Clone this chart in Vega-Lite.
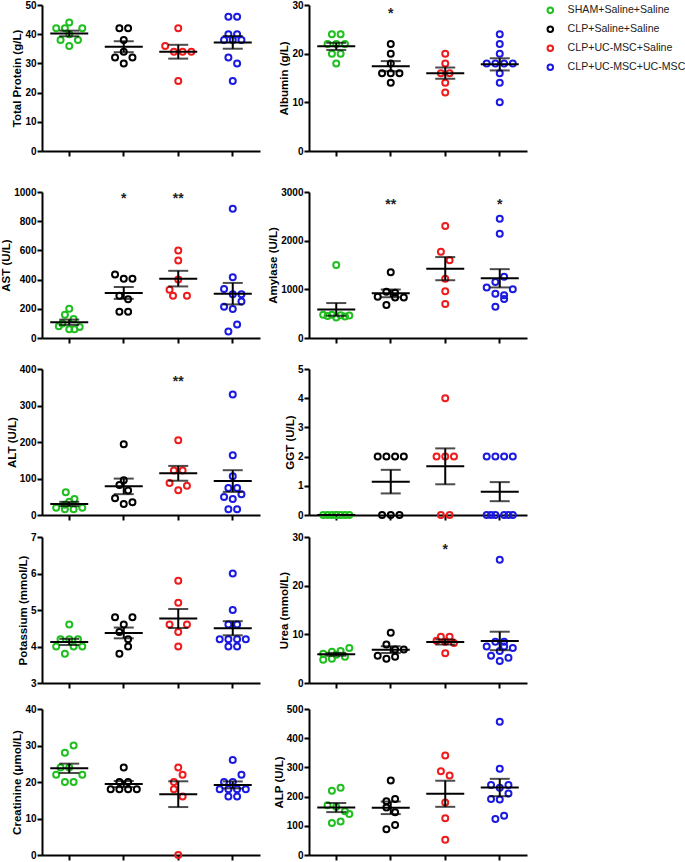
{
"$schema":"https://vega.github.io/schema/vega-lite/v6.json",
"padding":{"left":0,"top":0,"right":0,"bottom":0},
"columns":2,
"spacing":{"row":10,"column":7},
"datasets":{
"pts":[
{"p":"TP","g":"SHAM+Saline+Saline","v":44,"j":0},{"p":"TP","g":"SHAM+Saline+Saline","v":42,"j":-1.5},{"p":"TP","g":"SHAM+Saline+Saline","v":42,"j":-0.5},{"p":"TP","g":"SHAM+Saline+Saline","v":42,"j":1.5},{"p":"TP","g":"SHAM+Saline+Saline","v":40,"j":0},{"p":"TP","g":"SHAM+Saline+Saline","v":38,"j":-1},{"p":"TP","g":"SHAM+Saline+Saline","v":38,"j":1},{"p":"TP","g":"SHAM+Saline+Saline","v":36,"j":0},
{"p":"TP","g":"CLP+Saline+Saline","v":42,"j":-0.5},{"p":"TP","g":"CLP+Saline+Saline","v":42,"j":0.5},{"p":"TP","g":"CLP+Saline+Saline","v":38,"j":0},{"p":"TP","g":"CLP+Saline+Saline","v":34,"j":0},{"p":"TP","g":"CLP+Saline+Saline","v":32,"j":-1},{"p":"TP","g":"CLP+Saline+Saline","v":32,"j":1},{"p":"TP","g":"CLP+Saline+Saline","v":30,"j":0},
{"p":"TP","g":"CLP+UC-MSC+Saline","v":42,"j":0},{"p":"TP","g":"CLP+UC-MSC+Saline","v":36,"j":-1.5},{"p":"TP","g":"CLP+UC-MSC+Saline","v":34,"j":-0.5},{"p":"TP","g":"CLP+UC-MSC+Saline","v":34,"j":0.5},{"p":"TP","g":"CLP+UC-MSC+Saline","v":34,"j":1.5},{"p":"TP","g":"CLP+UC-MSC+Saline","v":24,"j":0},
{"p":"TP","g":"CLP+UC-MSC+UC-MSC","v":46,"j":-0.5},{"p":"TP","g":"CLP+UC-MSC+UC-MSC","v":46,"j":0.5},{"p":"TP","g":"CLP+UC-MSC+UC-MSC","v":40,"j":-0.5},{"p":"TP","g":"CLP+UC-MSC+UC-MSC","v":40,"j":0.5},{"p":"TP","g":"CLP+UC-MSC+UC-MSC","v":38,"j":-1},{"p":"TP","g":"CLP+UC-MSC+UC-MSC","v":38,"j":0},{"p":"TP","g":"CLP+UC-MSC+UC-MSC","v":38,"j":1},{"p":"TP","g":"CLP+UC-MSC+UC-MSC","v":32,"j":-0.5},{"p":"TP","g":"CLP+UC-MSC+UC-MSC","v":30,"j":0.5},{"p":"TP","g":"CLP+UC-MSC+UC-MSC","v":24,"j":0},

{"p":"ALB","g":"SHAM+Saline+Saline","v":24,"j":-0.5},{"p":"ALB","g":"SHAM+Saline+Saline","v":24,"j":0.5},{"p":"ALB","g":"SHAM+Saline+Saline","v":22,"j":-1},{"p":"ALB","g":"SHAM+Saline+Saline","v":22,"j":0},{"p":"ALB","g":"SHAM+Saline+Saline","v":22,"j":1},{"p":"ALB","g":"SHAM+Saline+Saline","v":20,"j":-0.5},{"p":"ALB","g":"SHAM+Saline+Saline","v":20,"j":0.5},{"p":"ALB","g":"SHAM+Saline+Saline","v":18,"j":0},
{"p":"ALB","g":"CLP+Saline+Saline","v":22,"j":0},{"p":"ALB","g":"CLP+Saline+Saline","v":20,"j":0},{"p":"ALB","g":"CLP+Saline+Saline","v":18,"j":0},{"p":"ALB","g":"CLP+Saline+Saline","v":16,"j":-1},{"p":"ALB","g":"CLP+Saline+Saline","v":16,"j":0},{"p":"ALB","g":"CLP+Saline+Saline","v":16,"j":1},{"p":"ALB","g":"CLP+Saline+Saline","v":14,"j":0},
{"p":"ALB","g":"CLP+UC-MSC+Saline","v":20,"j":0},{"p":"ALB","g":"CLP+UC-MSC+Saline","v":18,"j":0},{"p":"ALB","g":"CLP+UC-MSC+Saline","v":16,"j":-0.5},{"p":"ALB","g":"CLP+UC-MSC+Saline","v":16,"j":0.5},{"p":"ALB","g":"CLP+UC-MSC+Saline","v":14,"j":0},{"p":"ALB","g":"CLP+UC-MSC+Saline","v":12,"j":0},
{"p":"ALB","g":"CLP+UC-MSC+UC-MSC","v":24,"j":0},{"p":"ALB","g":"CLP+UC-MSC+UC-MSC","v":22,"j":0},{"p":"ALB","g":"CLP+UC-MSC+UC-MSC","v":20,"j":0},{"p":"ALB","g":"CLP+UC-MSC+UC-MSC","v":18,"j":-1.5},{"p":"ALB","g":"CLP+UC-MSC+UC-MSC","v":18,"j":-0.5},{"p":"ALB","g":"CLP+UC-MSC+UC-MSC","v":18,"j":0.5},{"p":"ALB","g":"CLP+UC-MSC+UC-MSC","v":18,"j":1.5},{"p":"ALB","g":"CLP+UC-MSC+UC-MSC","v":16,"j":0},{"p":"ALB","g":"CLP+UC-MSC+UC-MSC","v":14,"j":0},{"p":"ALB","g":"CLP+UC-MSC+UC-MSC","v":10,"j":0},

{"p":"AST","g":"SHAM+Saline+Saline","v":200,"j":0},{"p":"AST","g":"SHAM+Saline+Saline","v":160,"j":-0.5},{"p":"AST","g":"SHAM+Saline+Saline","v":130,"j":0.5},{"p":"AST","g":"SHAM+Saline+Saline","v":100,"j":-0.8},{"p":"AST","g":"SHAM+Saline+Saline","v":80,"j":-1.2},{"p":"AST","g":"SHAM+Saline+Saline","v":75,"j":1.2},{"p":"AST","g":"SHAM+Saline+Saline","v":60,"j":0},{"p":"AST","g":"SHAM+Saline+Saline","v":60,"j":0.6},
{"p":"AST","g":"CLP+Saline+Saline","v":435,"j":-1},{"p":"AST","g":"CLP+Saline+Saline","v":405,"j":0},{"p":"AST","g":"CLP+Saline+Saline","v":405,"j":1},{"p":"AST","g":"CLP+Saline+Saline","v":290,"j":-0.5},{"p":"AST","g":"CLP+Saline+Saline","v":265,"j":0.5},{"p":"AST","g":"CLP+Saline+Saline","v":180,"j":-0.5},{"p":"AST","g":"CLP+Saline+Saline","v":180,"j":0.5},
{"p":"AST","g":"CLP+UC-MSC+Saline","v":600,"j":0},{"p":"AST","g":"CLP+UC-MSC+Saline","v":530,"j":0},{"p":"AST","g":"CLP+UC-MSC+Saline","v":400,"j":0},{"p":"AST","g":"CLP+UC-MSC+Saline","v":330,"j":-1},{"p":"AST","g":"CLP+UC-MSC+Saline","v":290,"j":-0.6},{"p":"AST","g":"CLP+UC-MSC+Saline","v":290,"j":1},
{"p":"AST","g":"CLP+UC-MSC+UC-MSC","v":886,"j":0},{"p":"AST","g":"CLP+UC-MSC+UC-MSC","v":416,"j":0},{"p":"AST","g":"CLP+UC-MSC+UC-MSC","v":335,"j":-1},{"p":"AST","g":"CLP+UC-MSC+UC-MSC","v":300,"j":0},{"p":"AST","g":"CLP+UC-MSC+UC-MSC","v":300,"j":1},{"p":"AST","g":"CLP+UC-MSC+UC-MSC","v":250,"j":1},{"p":"AST","g":"CLP+UC-MSC+UC-MSC","v":214,"j":-1},{"p":"AST","g":"CLP+UC-MSC+UC-MSC","v":198,"j":0},{"p":"AST","g":"CLP+UC-MSC+UC-MSC","v":93,"j":0.5},{"p":"AST","g":"CLP+UC-MSC+UC-MSC","v":44,"j":-0.5},

{"p":"AMY","g":"SHAM+Saline+Saline","v":1500,"j":0},{"p":"AMY","g":"SHAM+Saline+Saline","v":480,"j":-1.5},{"p":"AMY","g":"SHAM+Saline+Saline","v":480,"j":-0.5},{"p":"AMY","g":"SHAM+Saline+Saline","v":470,"j":0.5},{"p":"AMY","g":"SHAM+Saline+Saline","v":460,"j":1.5},{"p":"AMY","g":"SHAM+Saline+Saline","v":450,"j":-1},{"p":"AMY","g":"SHAM+Saline+Saline","v":440,"j":1},{"p":"AMY","g":"SHAM+Saline+Saline","v":420,"j":0},
{"p":"AMY","g":"CLP+Saline+Saline","v":1350,"j":0},{"p":"AMY","g":"CLP+Saline+Saline","v":950,"j":-0.5},{"p":"AMY","g":"CLP+Saline+Saline","v":930,"j":0.5},{"p":"AMY","g":"CLP+Saline+Saline","v":850,"j":-1.5},{"p":"AMY","g":"CLP+Saline+Saline","v":830,"j":0.5},{"p":"AMY","g":"CLP+Saline+Saline","v":830,"j":1.5},{"p":"AMY","g":"CLP+Saline+Saline","v":680,"j":-0.5},
{"p":"AMY","g":"CLP+UC-MSC+Saline","v":2300,"j":0},{"p":"AMY","g":"CLP+UC-MSC+Saline","v":1770,"j":-0.5},{"p":"AMY","g":"CLP+UC-MSC+Saline","v":1600,"j":0.5},{"p":"AMY","g":"CLP+UC-MSC+Saline","v":1220,"j":0},{"p":"AMY","g":"CLP+UC-MSC+Saline","v":960,"j":0},{"p":"AMY","g":"CLP+UC-MSC+Saline","v":700,"j":0},
{"p":"AMY","g":"CLP+UC-MSC+UC-MSC","v":2450,"j":0},{"p":"AMY","g":"CLP+UC-MSC+UC-MSC","v":2140,"j":0},{"p":"AMY","g":"CLP+UC-MSC+UC-MSC","v":1260,"j":0.5},{"p":"AMY","g":"CLP+UC-MSC+UC-MSC","v":1150,"j":-0.5},{"p":"AMY","g":"CLP+UC-MSC+UC-MSC","v":1040,"j":-1.5},{"p":"AMY","g":"CLP+UC-MSC+UC-MSC","v":1000,"j":1.5},{"p":"AMY","g":"CLP+UC-MSC+UC-MSC","v":910,"j":-0.5},{"p":"AMY","g":"CLP+UC-MSC+UC-MSC","v":880,"j":0.5},{"p":"AMY","g":"CLP+UC-MSC+UC-MSC","v":800,"j":0.5},{"p":"AMY","g":"CLP+UC-MSC+UC-MSC","v":640,"j":-0.5},

{"p":"ALT","g":"SHAM+Saline+Saline","v":62,"j":-0.4},{"p":"ALT","g":"SHAM+Saline+Saline","v":44,"j":0.6},{"p":"ALT","g":"SHAM+Saline+Saline","v":36,"j":0},{"p":"ALT","g":"SHAM+Saline+Saline","v":28,"j":-0.5},{"p":"ALT","g":"SHAM+Saline+Saline","v":20,"j":-1.5},{"p":"ALT","g":"SHAM+Saline+Saline","v":16,"j":-0.5},{"p":"ALT","g":"SHAM+Saline+Saline","v":16,"j":0.5},{"p":"ALT","g":"SHAM+Saline+Saline","v":20,"j":1.5},
{"p":"ALT","g":"CLP+Saline+Saline","v":194,"j":0},{"p":"ALT","g":"CLP+Saline+Saline","v":95,"j":0},{"p":"ALT","g":"CLP+Saline+Saline","v":82,"j":-0.5},{"p":"ALT","g":"CLP+Saline+Saline","v":67,"j":0.5},{"p":"ALT","g":"CLP+Saline+Saline","v":46,"j":-1},{"p":"ALT","g":"CLP+Saline+Saline","v":35,"j":1},{"p":"ALT","g":"CLP+Saline+Saline","v":30,"j":0},
{"p":"ALT","g":"CLP+UC-MSC+Saline","v":205,"j":0},{"p":"ALT","g":"CLP+UC-MSC+Saline","v":122,"j":-0.5},{"p":"ALT","g":"CLP+UC-MSC+Saline","v":122,"j":0.5},{"p":"ALT","g":"CLP+UC-MSC+Saline","v":88,"j":-1},{"p":"ALT","g":"CLP+UC-MSC+Saline","v":80,"j":1},{"p":"ALT","g":"CLP+UC-MSC+Saline","v":68,"j":0},
{"p":"ALT","g":"CLP+UC-MSC+UC-MSC","v":330,"j":0},{"p":"ALT","g":"CLP+UC-MSC+UC-MSC","v":164,"j":0},{"p":"ALT","g":"CLP+UC-MSC+UC-MSC","v":106,"j":0},{"p":"ALT","g":"CLP+UC-MSC+UC-MSC","v":74,"j":-0.5},{"p":"ALT","g":"CLP+UC-MSC+UC-MSC","v":74,"j":0.5},{"p":"ALT","g":"CLP+UC-MSC+UC-MSC","v":57,"j":1},{"p":"ALT","g":"CLP+UC-MSC+UC-MSC","v":49,"j":-1},{"p":"ALT","g":"CLP+UC-MSC+UC-MSC","v":44,"j":0},{"p":"ALT","g":"CLP+UC-MSC+UC-MSC","v":16,"j":-0.5},{"p":"ALT","g":"CLP+UC-MSC+UC-MSC","v":16,"j":0.5},

{"p":"GGT","g":"SHAM+Saline+Saline","v":0,"j":-1.5},{"p":"GGT","g":"SHAM+Saline+Saline","v":0,"j":-0.5},{"p":"GGT","g":"SHAM+Saline+Saline","v":0,"j":0.5},{"p":"GGT","g":"SHAM+Saline+Saline","v":0,"j":1.5},{"p":"GGT","g":"SHAM+Saline+Saline","v":0,"j":-1},{"p":"GGT","g":"SHAM+Saline+Saline","v":0,"j":0},{"p":"GGT","g":"SHAM+Saline+Saline","v":0,"j":1},{"p":"GGT","g":"SHAM+Saline+Saline","v":0,"j":0},
{"p":"GGT","g":"CLP+Saline+Saline","v":2,"j":-1.5},{"p":"GGT","g":"CLP+Saline+Saline","v":2,"j":-0.5},{"p":"GGT","g":"CLP+Saline+Saline","v":2,"j":0.5},{"p":"GGT","g":"CLP+Saline+Saline","v":2,"j":1.5},{"p":"GGT","g":"CLP+Saline+Saline","v":0,"j":-1},{"p":"GGT","g":"CLP+Saline+Saline","v":0,"j":0},{"p":"GGT","g":"CLP+Saline+Saline","v":0,"j":1},
{"p":"GGT","g":"CLP+UC-MSC+Saline","v":4,"j":0},{"p":"GGT","g":"CLP+UC-MSC+Saline","v":2,"j":-1},{"p":"GGT","g":"CLP+UC-MSC+Saline","v":2,"j":0},{"p":"GGT","g":"CLP+UC-MSC+Saline","v":2,"j":1},{"p":"GGT","g":"CLP+UC-MSC+Saline","v":0,"j":-0.5},{"p":"GGT","g":"CLP+UC-MSC+Saline","v":0,"j":0.5},
{"p":"GGT","g":"CLP+UC-MSC+UC-MSC","v":2,"j":-1.5},{"p":"GGT","g":"CLP+UC-MSC+UC-MSC","v":2,"j":-0.5},{"p":"GGT","g":"CLP+UC-MSC+UC-MSC","v":2,"j":0.5},{"p":"GGT","g":"CLP+UC-MSC+UC-MSC","v":2,"j":1.5},{"p":"GGT","g":"CLP+UC-MSC+UC-MSC","v":0,"j":-1.5},{"p":"GGT","g":"CLP+UC-MSC+UC-MSC","v":0,"j":-0.5},{"p":"GGT","g":"CLP+UC-MSC+UC-MSC","v":0,"j":0.5},{"p":"GGT","g":"CLP+UC-MSC+UC-MSC","v":0,"j":1.5},{"p":"GGT","g":"CLP+UC-MSC+UC-MSC","v":0,"j":-1},{"p":"GGT","g":"CLP+UC-MSC+UC-MSC","v":0,"j":1},

{"p":"K","g":"SHAM+Saline+Saline","v":4.6,"j":0},{"p":"K","g":"SHAM+Saline+Saline","v":4.2,"j":-1},{"p":"K","g":"SHAM+Saline+Saline","v":4.2,"j":0},{"p":"K","g":"SHAM+Saline+Saline","v":4.2,"j":1},{"p":"K","g":"SHAM+Saline+Saline","v":4.0,"j":-1.5},{"p":"K","g":"SHAM+Saline+Saline","v":4.0,"j":0.5},{"p":"K","g":"SHAM+Saline+Saline","v":4.0,"j":1.5},{"p":"K","g":"SHAM+Saline+Saline","v":3.8,"j":-0.5},
{"p":"K","g":"CLP+Saline+Saline","v":4.8,"j":-1},{"p":"K","g":"CLP+Saline+Saline","v":4.8,"j":1},{"p":"K","g":"CLP+Saline+Saline","v":4.6,"j":0},{"p":"K","g":"CLP+Saline+Saline","v":4.4,"j":-0.5},{"p":"K","g":"CLP+Saline+Saline","v":4.2,"j":0.5},{"p":"K","g":"CLP+Saline+Saline","v":4.0,"j":0.5},{"p":"K","g":"CLP+Saline+Saline","v":3.8,"j":-0.5},
{"p":"K","g":"CLP+UC-MSC+Saline","v":5.8,"j":0},{"p":"K","g":"CLP+UC-MSC+Saline","v":5.2,"j":0},{"p":"K","g":"CLP+UC-MSC+Saline","v":4.6,"j":-1},{"p":"K","g":"CLP+UC-MSC+Saline","v":4.6,"j":1},{"p":"K","g":"CLP+UC-MSC+Saline","v":4.4,"j":0},{"p":"K","g":"CLP+UC-MSC+Saline","v":4.0,"j":0},
{"p":"K","g":"CLP+UC-MSC+UC-MSC","v":6.0,"j":0},{"p":"K","g":"CLP+UC-MSC+UC-MSC","v":5.0,"j":0},{"p":"K","g":"CLP+UC-MSC+UC-MSC","v":4.6,"j":-0.5},{"p":"K","g":"CLP+UC-MSC+UC-MSC","v":4.6,"j":0.5},{"p":"K","g":"CLP+UC-MSC+UC-MSC","v":4.2,"j":-1.5},{"p":"K","g":"CLP+UC-MSC+UC-MSC","v":4.2,"j":-0.5},{"p":"K","g":"CLP+UC-MSC+UC-MSC","v":4.2,"j":0.5},{"p":"K","g":"CLP+UC-MSC+UC-MSC","v":4.2,"j":1.5},{"p":"K","g":"CLP+UC-MSC+UC-MSC","v":4.0,"j":-0.5},{"p":"K","g":"CLP+UC-MSC+UC-MSC","v":4.0,"j":0.5},

{"p":"UREA","g":"SHAM+Saline+Saline","v":7.2,"j":1.5},{"p":"UREA","g":"SHAM+Saline+Saline","v":6.6,"j":0.5},{"p":"UREA","g":"SHAM+Saline+Saline","v":6.4,"j":-0.5},{"p":"UREA","g":"SHAM+Saline+Saline","v":6.0,"j":-1.5},{"p":"UREA","g":"SHAM+Saline+Saline","v":5.8,"j":0},{"p":"UREA","g":"SHAM+Saline+Saline","v":5.4,"j":1},{"p":"UREA","g":"SHAM+Saline+Saline","v":5.0,"j":-0.5},{"p":"UREA","g":"SHAM+Saline+Saline","v":4.8,"j":-1.5},
{"p":"UREA","g":"CLP+Saline+Saline","v":10.3,"j":0},{"p":"UREA","g":"CLP+Saline+Saline","v":7.9,"j":-0.5},{"p":"UREA","g":"CLP+Saline+Saline","v":6.9,"j":0.5},{"p":"UREA","g":"CLP+Saline+Saline","v":6.9,"j":1.5},{"p":"UREA","g":"CLP+Saline+Saline","v":5.6,"j":-1.5},{"p":"UREA","g":"CLP+Saline+Saline","v":5.0,"j":-0.5},{"p":"UREA","g":"CLP+Saline+Saline","v":5.4,"j":0.5},
{"p":"UREA","g":"CLP+UC-MSC+Saline","v":9.5,"j":-0.5},{"p":"UREA","g":"CLP+UC-MSC+Saline","v":9.5,"j":0.5},{"p":"UREA","g":"CLP+UC-MSC+Saline","v":8.7,"j":-1},{"p":"UREA","g":"CLP+UC-MSC+Saline","v":8.5,"j":0},{"p":"UREA","g":"CLP+UC-MSC+Saline","v":8.2,"j":1},{"p":"UREA","g":"CLP+UC-MSC+Saline","v":6.1,"j":0},
{"p":"UREA","g":"CLP+UC-MSC+UC-MSC","v":25.3,"j":0},{"p":"UREA","g":"CLP+UC-MSC+UC-MSC","v":8.5,"j":-0.5},{"p":"UREA","g":"CLP+UC-MSC+UC-MSC","v":8.5,"j":0.5},{"p":"UREA","g":"CLP+UC-MSC+UC-MSC","v":7.5,"j":-1.5},{"p":"UREA","g":"CLP+UC-MSC+UC-MSC","v":7.5,"j":0.5},{"p":"UREA","g":"CLP+UC-MSC+UC-MSC","v":7.2,"j":1.5},{"p":"UREA","g":"CLP+UC-MSC+UC-MSC","v":6.6,"j":0},{"p":"UREA","g":"CLP+UC-MSC+UC-MSC","v":5.6,"j":-1},{"p":"UREA","g":"CLP+UC-MSC+UC-MSC","v":5.2,"j":1},{"p":"UREA","g":"CLP+UC-MSC+UC-MSC","v":4.5,"j":0},

{"p":"CRE","g":"SHAM+Saline+Saline","v":30,"j":0.5},{"p":"CRE","g":"SHAM+Saline+Saline","v":28,"j":-0.5},{"p":"CRE","g":"SHAM+Saline+Saline","v":24,"j":-1},{"p":"CRE","g":"SHAM+Saline+Saline","v":24,"j":0},{"p":"CRE","g":"SHAM+Saline+Saline","v":22,"j":-1.5},{"p":"CRE","g":"SHAM+Saline+Saline","v":22,"j":1.5},{"p":"CRE","g":"SHAM+Saline+Saline","v":20,"j":-0.5},{"p":"CRE","g":"SHAM+Saline+Saline","v":20,"j":0.5},
{"p":"CRE","g":"CLP+Saline+Saline","v":24,"j":0},{"p":"CRE","g":"CLP+Saline+Saline","v":20,"j":-0.5},{"p":"CRE","g":"CLP+Saline+Saline","v":20,"j":0.5},{"p":"CRE","g":"CLP+Saline+Saline","v":18,"j":-1.5},{"p":"CRE","g":"CLP+Saline+Saline","v":18,"j":-0.5},{"p":"CRE","g":"CLP+Saline+Saline","v":18,"j":0.5},{"p":"CRE","g":"CLP+Saline+Saline","v":18,"j":1.5},
{"p":"CRE","g":"CLP+UC-MSC+Saline","v":24,"j":0},{"p":"CRE","g":"CLP+UC-MSC+Saline","v":22,"j":0.5},{"p":"CRE","g":"CLP+UC-MSC+Saline","v":20,"j":-0.5},{"p":"CRE","g":"CLP+UC-MSC+Saline","v":18,"j":-0.5},{"p":"CRE","g":"CLP+UC-MSC+Saline","v":16,"j":0.5},{"p":"CRE","g":"CLP+UC-MSC+Saline","v":0,"j":0},
{"p":"CRE","g":"CLP+UC-MSC+UC-MSC","v":26,"j":0},{"p":"CRE","g":"CLP+UC-MSC+UC-MSC","v":22,"j":1},{"p":"CRE","g":"CLP+UC-MSC+UC-MSC","v":20,"j":-1},{"p":"CRE","g":"CLP+UC-MSC+UC-MSC","v":20,"j":0},{"p":"CRE","g":"CLP+UC-MSC+UC-MSC","v":18,"j":-1.5},{"p":"CRE","g":"CLP+UC-MSC+UC-MSC","v":18,"j":-0.5},{"p":"CRE","g":"CLP+UC-MSC+UC-MSC","v":18,"j":0.5},{"p":"CRE","g":"CLP+UC-MSC+UC-MSC","v":18,"j":1.5},{"p":"CRE","g":"CLP+UC-MSC+UC-MSC","v":16,"j":-0.5},{"p":"CRE","g":"CLP+UC-MSC+UC-MSC","v":16,"j":0.5},

{"p":"ALP","g":"SHAM+Saline+Saline","v":230,"j":0.5},{"p":"ALP","g":"SHAM+Saline+Saline","v":220,"j":-0.5},{"p":"ALP","g":"SHAM+Saline+Saline","v":170,"j":-1},{"p":"ALP","g":"SHAM+Saline+Saline","v":165,"j":0},{"p":"ALP","g":"SHAM+Saline+Saline","v":150,"j":1},{"p":"ALP","g":"SHAM+Saline+Saline","v":140,"j":1.5},{"p":"ALP","g":"SHAM+Saline+Saline","v":115,"j":0.5},{"p":"ALP","g":"SHAM+Saline+Saline","v":110,"j":-0.5},
{"p":"ALP","g":"CLP+Saline+Saline","v":255,"j":0},{"p":"ALP","g":"CLP+Saline+Saline","v":192,"j":0.5},{"p":"ALP","g":"CLP+Saline+Saline","v":184,"j":-0.5},{"p":"ALP","g":"CLP+Saline+Saline","v":163,"j":-0.5},{"p":"ALP","g":"CLP+Saline+Saline","v":146,"j":0.5},{"p":"ALP","g":"CLP+Saline+Saline","v":103,"j":0.5},{"p":"ALP","g":"CLP+Saline+Saline","v":88,"j":-0.5},
{"p":"ALP","g":"CLP+UC-MSC+Saline","v":341,"j":0},{"p":"ALP","g":"CLP+UC-MSC+Saline","v":287,"j":-0.5},{"p":"ALP","g":"CLP+UC-MSC+Saline","v":272,"j":0.5},{"p":"ALP","g":"CLP+UC-MSC+Saline","v":180,"j":0},{"p":"ALP","g":"CLP+UC-MSC+Saline","v":126,"j":0},{"p":"ALP","g":"CLP+UC-MSC+Saline","v":52,"j":0},
{"p":"ALP","g":"CLP+UC-MSC+UC-MSC","v":456,"j":0},{"p":"ALP","g":"CLP+UC-MSC+UC-MSC","v":295,"j":0},{"p":"ALP","g":"CLP+UC-MSC+UC-MSC","v":240,"j":-1},{"p":"ALP","g":"CLP+UC-MSC+UC-MSC","v":240,"j":1},{"p":"ALP","g":"CLP+UC-MSC+UC-MSC","v":230,"j":0},{"p":"ALP","g":"CLP+UC-MSC+UC-MSC","v":211,"j":1},{"p":"ALP","g":"CLP+UC-MSC+UC-MSC","v":192,"j":-1},{"p":"ALP","g":"CLP+UC-MSC+UC-MSC","v":190,"j":0},{"p":"ALP","g":"CLP+UC-MSC+UC-MSC","v":134,"j":0.5},{"p":"ALP","g":"CLP+UC-MSC+UC-MSC","v":123,"j":-0.5}
],
"stars":[
{"p":"ALB","g":"CLP+Saline+Saline","v":28.7,"s":"*"},
{"p":"AST","g":"CLP+Saline+Saline","v":970,"s":"*"},
{"p":"AST","g":"CLP+UC-MSC+Saline","v":970,"s":"**"},
{"p":"AMY","g":"CLP+Saline+Saline","v":2800,"s":"**"},
{"p":"AMY","g":"CLP+UC-MSC+UC-MSC","v":2800,"s":"*"},
{"p":"ALT","g":"CLP+UC-MSC+Saline","v":372,"s":"**"},
{"p":"UREA","g":"CLP+UC-MSC+Saline","v":28,"s":"*"}
]
},
"concat":[
{"width":218,"height":146,
 "encoding":{"x":{"field":"g","type":"nominal","scale":{"domain":["SHAM+Saline+Saline","CLP+Saline+Saline","CLP+UC-MSC+Saline","CLP+UC-MSC+UC-MSC"],"paddingInner":0,"paddingOuter":0}}},
 "layer":[
  {"data":{"name":"pts"},"transform":[{"filter":"datum.p==='TP'"}],"mark":{"type":"point","strokeWidth":2,"size":36,"opacity":1},
   "encoding":{"y":{"field":"v","type":"quantitative","title":"Total Protein (g/L)","scale":{"domain":[0,50]},"axis":{"values":[0,10,20,30,40,50]}},
   "xOffset":{"field":"j","type":"quantitative","scale":{"domain":[-3.13,3.13]}},
   "color":{"field":"g","type":"nominal","scale":{"domain":["SHAM+Saline+Saline","CLP+Saline+Saline","CLP+UC-MSC+Saline","CLP+UC-MSC+UC-MSC"],"range":["#1fbf1f","#000000","#ee1c1c","#1a1ae0"]},"legend":{"title":null}}}},
  {"data":{"name":"pts"},"transform":[{"filter":"datum.p==='TP'"}],"mark":{"type":"errorbar","extent":"stderr","ticks":{"size":20},"thickness":2,"color":"black"},
   "encoding":{"y":{"field":"v","type":"quantitative","title":"Total Protein (g/L)","axis":{"values":[0,10,20,30,40,50]}}}},
  {"data":{"name":"pts"},"transform":[{"filter":"datum.p==='TP'"}],"mark":{"type":"tick","thickness":2,"size":38,"color":"black"},
   "encoding":{"y":{"aggregate":"mean","field":"v","type":"quantitative","title":"Total Protein (g/L)","axis":{"values":[0,10,20,30,40,50]}}}}
 ]},
{"width":218,"height":146,
 "encoding":{"x":{"field":"g","type":"nominal","scale":{"domain":["SHAM+Saline+Saline","CLP+Saline+Saline","CLP+UC-MSC+Saline","CLP+UC-MSC+UC-MSC"],"paddingInner":0,"paddingOuter":0}}},
 "layer":[
  {"data":{"name":"pts"},"transform":[{"filter":"datum.p==='ALB'"}],"mark":{"type":"point","strokeWidth":2,"size":36,"opacity":1},
   "encoding":{"y":{"field":"v","type":"quantitative","title":"Albumin (g/L)","scale":{"domain":[0,30]},"axis":{"values":[0,10,20,30]}},
   "xOffset":{"field":"j","type":"quantitative","scale":{"domain":[-3.13,3.13]}},
   "color":{"field":"g","type":"nominal"}}},
  {"data":{"name":"pts"},"transform":[{"filter":"datum.p==='ALB'"}],"mark":{"type":"errorbar","extent":"stderr","ticks":{"size":20},"thickness":2,"color":"black"},
   "encoding":{"y":{"field":"v","type":"quantitative","title":"Albumin (g/L)","axis":{"values":[0,10,20,30]}}}},
  {"data":{"name":"pts"},"transform":[{"filter":"datum.p==='ALB'"}],"mark":{"type":"tick","thickness":2,"size":38,"color":"black"},
   "encoding":{"y":{"aggregate":"mean","field":"v","type":"quantitative","title":"Albumin (g/L)","axis":{"values":[0,10,20,30]}}}},
  {"data":{"name":"stars"},"transform":[{"filter":"datum.p==='ALB'"}],"mark":{"type":"text","fontSize":14,"fontWeight":"bold","baseline":"middle","dy":3},
   "encoding":{"y":{"field":"v","type":"quantitative","title":"Albumin (g/L)","axis":{"values":[0,10,20,30]}},"text":{"field":"s"}}}
 ]},
{"width":218,"height":146,"title":{"text":" ","fontSize":10,"offset":10},
 "encoding":{"x":{"field":"g","type":"nominal","scale":{"domain":["SHAM+Saline+Saline","CLP+Saline+Saline","CLP+UC-MSC+Saline","CLP+UC-MSC+UC-MSC"],"paddingInner":0,"paddingOuter":0}}},
 "layer":[
  {"data":{"name":"pts"},"transform":[{"filter":"datum.p==='AST'"}],"mark":{"type":"point","strokeWidth":2,"size":36,"opacity":1},
   "encoding":{"y":{"field":"v","type":"quantitative","title":"AST (U/L)","scale":{"domain":[0,1000]},"axis":{"values":[0,200,400,600,800,1000]}},
   "xOffset":{"field":"j","type":"quantitative","scale":{"domain":[-3.13,3.13]}},
   "color":{"field":"g","type":"nominal"}}},
  {"data":{"name":"pts"},"transform":[{"filter":"datum.p==='AST'"}],"mark":{"type":"errorbar","extent":"stderr","ticks":{"size":20},"thickness":2,"color":"black"},
   "encoding":{"y":{"field":"v","type":"quantitative","title":"AST (U/L)","axis":{"values":[0,200,400,600,800,1000]}}}},
  {"data":{"name":"pts"},"transform":[{"filter":"datum.p==='AST'"}],"mark":{"type":"tick","thickness":2,"size":38,"color":"black"},
   "encoding":{"y":{"aggregate":"mean","field":"v","type":"quantitative","title":"AST (U/L)","axis":{"values":[0,200,400,600,800,1000]}}}},
  {"data":{"name":"stars"},"transform":[{"filter":"datum.p==='AST'"}],"mark":{"type":"text","fontSize":14,"fontWeight":"bold","baseline":"middle","dy":3},
   "encoding":{"y":{"field":"v","type":"quantitative","title":"AST (U/L)","axis":{"values":[0,200,400,600,800,1000]}},"text":{"field":"s"}}}
 ]},
{"width":218,"height":146,
 "encoding":{"x":{"field":"g","type":"nominal","scale":{"domain":["SHAM+Saline+Saline","CLP+Saline+Saline","CLP+UC-MSC+Saline","CLP+UC-MSC+UC-MSC"],"paddingInner":0,"paddingOuter":0}}},
 "layer":[
  {"data":{"name":"pts"},"transform":[{"filter":"datum.p==='AMY'"}],"mark":{"type":"point","strokeWidth":2,"size":36,"opacity":1},
   "encoding":{"y":{"field":"v","type":"quantitative","title":"Amylase (U/L)","scale":{"domain":[0,3000]},"axis":{"values":[0,1000,2000,3000]}},
   "xOffset":{"field":"j","type":"quantitative","scale":{"domain":[-3.13,3.13]}},
   "color":{"field":"g","type":"nominal"}}},
  {"data":{"name":"pts"},"transform":[{"filter":"datum.p==='AMY'"}],"mark":{"type":"errorbar","extent":"stderr","ticks":{"size":20},"thickness":2,"color":"black"},
   "encoding":{"y":{"field":"v","type":"quantitative","title":"Amylase (U/L)","axis":{"values":[0,1000,2000,3000]}}}},
  {"data":{"name":"pts"},"transform":[{"filter":"datum.p==='AMY'"}],"mark":{"type":"tick","thickness":2,"size":38,"color":"black"},
   "encoding":{"y":{"aggregate":"mean","field":"v","type":"quantitative","title":"Amylase (U/L)","axis":{"values":[0,1000,2000,3000]}}}},
  {"data":{"name":"stars"},"transform":[{"filter":"datum.p==='AMY'"}],"mark":{"type":"text","fontSize":14,"fontWeight":"bold","baseline":"middle","dy":3},
   "encoding":{"y":{"field":"v","type":"quantitative","title":"Amylase (U/L)","axis":{"values":[0,1000,2000,3000]}},"text":{"field":"s"}}}
 ]},
{"width":218,"height":146,"title":{"text":" ","fontSize":10,"offset":0},
 "encoding":{"x":{"field":"g","type":"nominal","scale":{"domain":["SHAM+Saline+Saline","CLP+Saline+Saline","CLP+UC-MSC+Saline","CLP+UC-MSC+UC-MSC"],"paddingInner":0,"paddingOuter":0}}},
 "layer":[
  {"data":{"name":"pts"},"transform":[{"filter":"datum.p==='ALT'"}],"mark":{"type":"point","strokeWidth":2,"size":36,"opacity":1},
   "encoding":{"y":{"field":"v","type":"quantitative","title":"ALT (U/L)","scale":{"domain":[0,400]},"axis":{"values":[0,100,200,300,400]}},
   "xOffset":{"field":"j","type":"quantitative","scale":{"domain":[-3.13,3.13]}},
   "color":{"field":"g","type":"nominal"}}},
  {"data":{"name":"pts"},"transform":[{"filter":"datum.p==='ALT'"}],"mark":{"type":"errorbar","extent":"stderr","ticks":{"size":20},"thickness":2,"color":"black"},
   "encoding":{"y":{"field":"v","type":"quantitative","title":"ALT (U/L)","axis":{"values":[0,100,200,300,400]}}}},
  {"data":{"name":"pts"},"transform":[{"filter":"datum.p==='ALT'"}],"mark":{"type":"tick","thickness":2,"size":38,"color":"black"},
   "encoding":{"y":{"aggregate":"mean","field":"v","type":"quantitative","title":"ALT (U/L)","axis":{"values":[0,100,200,300,400]}}}},
  {"data":{"name":"stars"},"transform":[{"filter":"datum.p==='ALT'"}],"mark":{"type":"text","fontSize":14,"fontWeight":"bold","baseline":"middle","dy":3},
   "encoding":{"y":{"field":"v","type":"quantitative","title":"ALT (U/L)","axis":{"values":[0,100,200,300,400]}},"text":{"field":"s"}}}
 ]},
{"width":218,"height":146,
 "encoding":{"x":{"field":"g","type":"nominal","scale":{"domain":["SHAM+Saline+Saline","CLP+Saline+Saline","CLP+UC-MSC+Saline","CLP+UC-MSC+UC-MSC"],"paddingInner":0,"paddingOuter":0}}},
 "layer":[
  {"data":{"name":"pts"},"transform":[{"filter":"datum.p==='GGT'"}],"mark":{"type":"point","strokeWidth":2,"size":36,"opacity":1},
   "encoding":{"y":{"field":"v","type":"quantitative","title":"GGT (U/L)","scale":{"domain":[0,5]},"axis":{"values":[0,1,2,3,4,5]}},
   "xOffset":{"field":"j","type":"quantitative","scale":{"domain":[-3.13,3.13]}},
   "color":{"field":"g","type":"nominal"}}},
  {"data":{"name":"pts"},"transform":[{"filter":"datum.p==='GGT'"}],"mark":{"type":"errorbar","extent":"stderr","ticks":{"size":20},"thickness":2,"color":"black"},
   "encoding":{"y":{"field":"v","type":"quantitative","title":"GGT (U/L)","axis":{"values":[0,1,2,3,4,5]}}}},
  {"data":{"name":"pts"},"transform":[{"filter":"datum.p==='GGT'"}],"mark":{"type":"tick","thickness":2,"size":38,"color":"black"},
   "encoding":{"y":{"aggregate":"mean","field":"v","type":"quantitative","title":"GGT (U/L)","axis":{"values":[0,1,2,3,4,5]}}}}
 ]},
{"width":218,"height":146,
 "encoding":{"x":{"field":"g","type":"nominal","scale":{"domain":["SHAM+Saline+Saline","CLP+Saline+Saline","CLP+UC-MSC+Saline","CLP+UC-MSC+UC-MSC"],"paddingInner":0,"paddingOuter":0}}},
 "layer":[
  {"data":{"name":"pts"},"transform":[{"filter":"datum.p==='K'"}],"mark":{"type":"point","strokeWidth":2,"size":36,"opacity":1},
   "encoding":{"y":{"field":"v","type":"quantitative","title":"Potassium (mmol/L)","scale":{"domain":[3,7],"zero":false},"axis":{"values":[3,4,5,6,7]}},
   "xOffset":{"field":"j","type":"quantitative","scale":{"domain":[-3.13,3.13]}},
   "color":{"field":"g","type":"nominal"}}},
  {"data":{"name":"pts"},"transform":[{"filter":"datum.p==='K'"}],"mark":{"type":"errorbar","extent":"stderr","ticks":{"size":20},"thickness":2,"color":"black"},
   "encoding":{"y":{"field":"v","type":"quantitative","title":"Potassium (mmol/L)","axis":{"values":[3,4,5,6,7]}}}},
  {"data":{"name":"pts"},"transform":[{"filter":"datum.p==='K'"}],"mark":{"type":"tick","thickness":2,"size":38,"color":"black"},
   "encoding":{"y":{"aggregate":"mean","field":"v","type":"quantitative","title":"Potassium (mmol/L)","axis":{"values":[3,4,5,6,7]}}}}
 ]},
{"width":218,"height":146,
 "encoding":{"x":{"field":"g","type":"nominal","scale":{"domain":["SHAM+Saline+Saline","CLP+Saline+Saline","CLP+UC-MSC+Saline","CLP+UC-MSC+UC-MSC"],"paddingInner":0,"paddingOuter":0}}},
 "layer":[
  {"data":{"name":"pts"},"transform":[{"filter":"datum.p==='UREA'"}],"mark":{"type":"point","strokeWidth":2,"size":36,"opacity":1},
   "encoding":{"y":{"field":"v","type":"quantitative","title":"Urea (mmol/L)","scale":{"domain":[0,30]},"axis":{"values":[0,10,20,30]}},
   "xOffset":{"field":"j","type":"quantitative","scale":{"domain":[-3.13,3.13]}},
   "color":{"field":"g","type":"nominal"}}},
  {"data":{"name":"pts"},"transform":[{"filter":"datum.p==='UREA'"}],"mark":{"type":"errorbar","extent":"stderr","ticks":{"size":20},"thickness":2,"color":"black"},
   "encoding":{"y":{"field":"v","type":"quantitative","title":"Urea (mmol/L)","axis":{"values":[0,10,20,30]}}}},
  {"data":{"name":"pts"},"transform":[{"filter":"datum.p==='UREA'"}],"mark":{"type":"tick","thickness":2,"size":38,"color":"black"},
   "encoding":{"y":{"aggregate":"mean","field":"v","type":"quantitative","title":"Urea (mmol/L)","axis":{"values":[0,10,20,30]}}}},
  {"data":{"name":"stars"},"transform":[{"filter":"datum.p==='UREA'"}],"mark":{"type":"text","fontSize":14,"fontWeight":"bold","baseline":"middle","dy":3},
   "encoding":{"y":{"field":"v","type":"quantitative","title":"Urea (mmol/L)","axis":{"values":[0,10,20,30]}},"text":{"field":"s"}}}
 ]},
{"width":218,"height":146,"title":{"text":" ","fontSize":5,"offset":0},
 "encoding":{"x":{"field":"g","type":"nominal","scale":{"domain":["SHAM+Saline+Saline","CLP+Saline+Saline","CLP+UC-MSC+Saline","CLP+UC-MSC+UC-MSC"],"paddingInner":0,"paddingOuter":0}}},
 "layer":[
  {"data":{"name":"pts"},"transform":[{"filter":"datum.p==='CRE'"}],"mark":{"type":"point","strokeWidth":2,"size":36,"opacity":1},
   "encoding":{"y":{"field":"v","type":"quantitative","title":"Creatinine (μmol/L)","scale":{"domain":[0,40]},"axis":{"values":[0,10,20,30,40]}},
   "xOffset":{"field":"j","type":"quantitative","scale":{"domain":[-3.13,3.13]}},
   "color":{"field":"g","type":"nominal"}}},
  {"data":{"name":"pts"},"transform":[{"filter":"datum.p==='CRE'"}],"mark":{"type":"errorbar","extent":"stderr","ticks":{"size":20},"thickness":2,"color":"black"},
   "encoding":{"y":{"field":"v","type":"quantitative","title":"Creatinine (μmol/L)","axis":{"values":[0,10,20,30,40]}}}},
  {"data":{"name":"pts"},"transform":[{"filter":"datum.p==='CRE'"}],"mark":{"type":"tick","thickness":2,"size":38,"color":"black"},
   "encoding":{"y":{"aggregate":"mean","field":"v","type":"quantitative","title":"Creatinine (μmol/L)","axis":{"values":[0,10,20,30,40]}}}}
 ]},
{"width":218,"height":146,
 "encoding":{"x":{"field":"g","type":"nominal","scale":{"domain":["SHAM+Saline+Saline","CLP+Saline+Saline","CLP+UC-MSC+Saline","CLP+UC-MSC+UC-MSC"],"paddingInner":0,"paddingOuter":0}}},
 "layer":[
  {"data":{"name":"pts"},"transform":[{"filter":"datum.p==='ALP'"}],"mark":{"type":"point","strokeWidth":2,"size":36,"opacity":1},
   "encoding":{"y":{"field":"v","type":"quantitative","title":"ALP (U/L)","scale":{"domain":[0,500]},"axis":{"values":[0,100,200,300,400,500]}},
   "xOffset":{"field":"j","type":"quantitative","scale":{"domain":[-3.13,3.13]}},
   "color":{"field":"g","type":"nominal"}}},
  {"data":{"name":"pts"},"transform":[{"filter":"datum.p==='ALP'"}],"mark":{"type":"errorbar","extent":"stderr","ticks":{"size":20},"thickness":2,"color":"black"},
   "encoding":{"y":{"field":"v","type":"quantitative","title":"ALP (U/L)","axis":{"values":[0,100,200,300,400,500]}}}},
  {"data":{"name":"pts"},"transform":[{"filter":"datum.p==='ALP'"}],"mark":{"type":"tick","thickness":2,"size":38,"color":"black"},
   "encoding":{"y":{"aggregate":"mean","field":"v","type":"quantitative","title":"ALP (U/L)","axis":{"values":[0,100,200,300,400,500]}}}}
 ]}
],
"config":{
 "view":{"stroke":null},
 "font":"Liberation Sans",
 "axis":{"domainColor":"black","domainWidth":2,"tickColor":"black","tickWidth":2,"tickSize":5,"labelFont":"Liberation Sans","labelFontWeight":"bold","labelFontSize":10,"labelColor":"black","labelPadding":1,"labelOverlap":false,"labelFlush":false,"titleFont":"Liberation Sans","titleFontWeight":"bold","titleFontSize":11.5,"titleColor":"black","titlePadding":2,"grid":false,"format":"d"},
 "axisX":{"labels":false,"title":null},
 "legend":{"labelFont":"Liberation Sans","labelFontSize":10.6,"labelColor":"#222222","labelLimit":0,"symbolStrokeWidth":2,"symbolSize":30,"labelOffset":12,"rowPadding":4,"offset":18},
 "text":{"font":"Liberation Sans","color":"#222222"}
}
}
